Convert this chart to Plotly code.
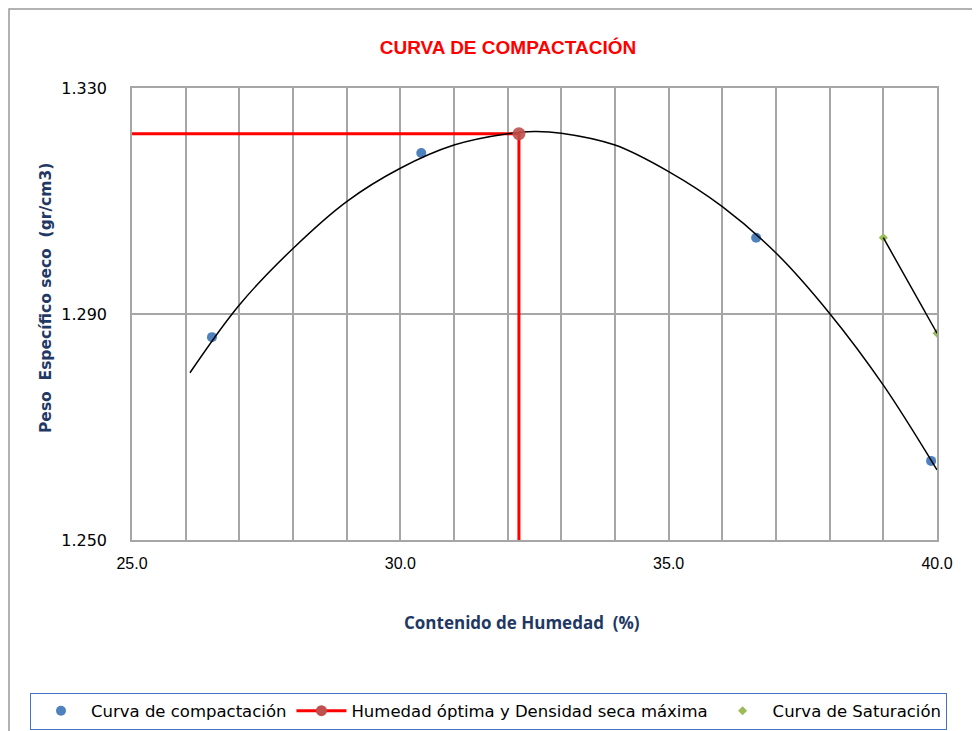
"""Curva de compactacion - Proctor chart"""

import plotly.graph_objects as go

# measured points (compaction test)
humedad = [26.49, 30.39, 36.63, 39.89]
densidad = [1.2859, 1.3185, 1.3035, 1.2640]

# optimum moisture / max dry density
hum_opt = 32.21
dens_max = 1.3219
opt_x = [25.0, hum_opt, hum_opt]
opt_y = [dens_max, dens_max, 1.250]

# fitted compaction curve
curva_x = [26.08, 27, 28, 29, 30, 31, 32, 32.5, 33, 34, 35, 36, 37, 38, 39, 40]
curva_y = [1.2796, 1.2916, 1.3016, 1.3099, 1.3158, 1.3199, 1.3219, 1.3223,
           1.3220, 1.3199, 1.3152, 1.3090, 1.3008, 1.2901, 1.2774, 1.2624]

# saturation curve
sat_x = [39.0, 40.0]
sat_y = [1.3035, 1.2866]

NAVY = "#1F3864"
GRID = "#A6A6A6"

# plot area in figure pixels
L, T, W, H = 124, 80, 805, 452


def px(x):
    return (x - L) / W


def py(y):
    return (T + H - y) / H


fig = go.Figure()

fig.add_trace(go.Scatter(
    x=humedad, y=densidad, mode="markers", name="Curva de compactación",
    marker=dict(color="#4F81BD", size=10),
))
fig.add_trace(go.Scatter(
    x=opt_x, y=opt_y, mode="lines", showlegend=False,
    line=dict(color="#FF0000", width=3), hoverinfo="skip",
))
# legend entry for the optimum (line + marker)
fig.add_trace(go.Scatter(
    x=[None], y=[None], mode="lines+markers",
    name="Humedad óptima y Densidad seca máxima",
    line=dict(color="#FF0000", width=3),
    marker=dict(color="#C0504D", size=11),
))
fig.add_trace(go.Scatter(
    x=sat_x, y=sat_y, mode="markers", name="Curva de Saturación",
    marker=dict(color="#9BBB59", size=7, symbol="diamond"),
))
fig.add_trace(go.Scatter(
    x=curva_x, y=curva_y, mode="lines", showlegend=False,
    line=dict(color="black", width=1.5, shape="spline"), hoverinfo="skip",
))
fig.add_trace(go.Scatter(
    x=sat_x, y=sat_y, mode="lines", showlegend=False,
    line=dict(color="black", width=1.5), hoverinfo="skip",
))
fig.add_trace(go.Scatter(
    x=[hum_opt], y=[dens_max], mode="markers", showlegend=False,
    marker=dict(color="#C0504D", size=13, opacity=0.9), hoverinfo="skip",
))

fig.update_layout(
    width=980, height=731,
    margin=dict(l=L, r=980 - L - W, t=T, b=731 - T - H, autoexpand=False),
    paper_bgcolor="white", plot_bgcolor="white",
    font=dict(family="Open Sans", size=15, color="black"),
    title=dict(
        text="<b>CURVA DE COMPACTACIÓN</b>",
        font=dict(family="Liberation Sans", size=19, color="#FF0000"),
        x=500 / 980, xanchor="center", y=1 - 39 / 731, yanchor="middle",
        automargin=False,
    ),
    xaxis=dict(
        range=[25, 40], tick0=25, dtick=5, tickformat=".1f", showgrid=True,
        gridcolor=GRID, gridwidth=1.5, zeroline=False, automargin=False,
        showline=True, linecolor=GRID, linewidth=1.5, mirror=True,
        ticks="outside", ticklen=8, tickcolor="rgba(0,0,0,0)",
        tickfont=dict(family="Liberation Sans", size=16),
        minor=dict(dtick=1, showgrid=True, gridcolor=GRID, gridwidth=1.5),
    ),
    yaxis=dict(
        range=[1.25, 1.33], tick0=1.25, dtick=0.04, tickformat=".3f",
        showgrid=True, gridcolor=GRID, gridwidth=1.5, zeroline=False,
        automargin=False,
        showline=True, linecolor=GRID, linewidth=1.5, mirror=True,
        ticks="outside", ticklen=20, tickcolor="rgba(0,0,0,0)",
        tickfont=dict(family="DejaVu Sans", size=16),
    ),
    legend=dict(
        orientation="h", x=px(22), xanchor="left",
        y=py(703), yanchor="middle",
        bordercolor="#4472C4", borderwidth=1,
        font=dict(family="DejaVu Sans", size=16.5),
        itemwidth=50, tracegroupgap=0,
    ),
    showlegend=True,
    annotations=[
        dict(text="<b>Contenido de Humedad  (%)</b>", xref="paper", yref="paper",
             x=px(514), y=py(614), xanchor="center", yanchor="middle",
             showarrow=False,
             font=dict(family="Open Sans", size=17, color=NAVY)),
        dict(text="<b>Peso  Específico seco  (gr/cm3)</b>", xref="paper", yref="paper",
             x=-0.1205, y=py(290), textangle=-90, showarrow=False,
             font=dict(family="DejaVu Sans", size=15.5, color=NAVY)),
    ],
    shapes=[
        dict(type="rect", xref="paper", yref="paper",
             x0=px(1), x1=1.2, y0=-0.6, y1=py(1),
             line=dict(color="#999999", width=1.5), layer="below"),
    ],
)

fig.write_html("out.html")
